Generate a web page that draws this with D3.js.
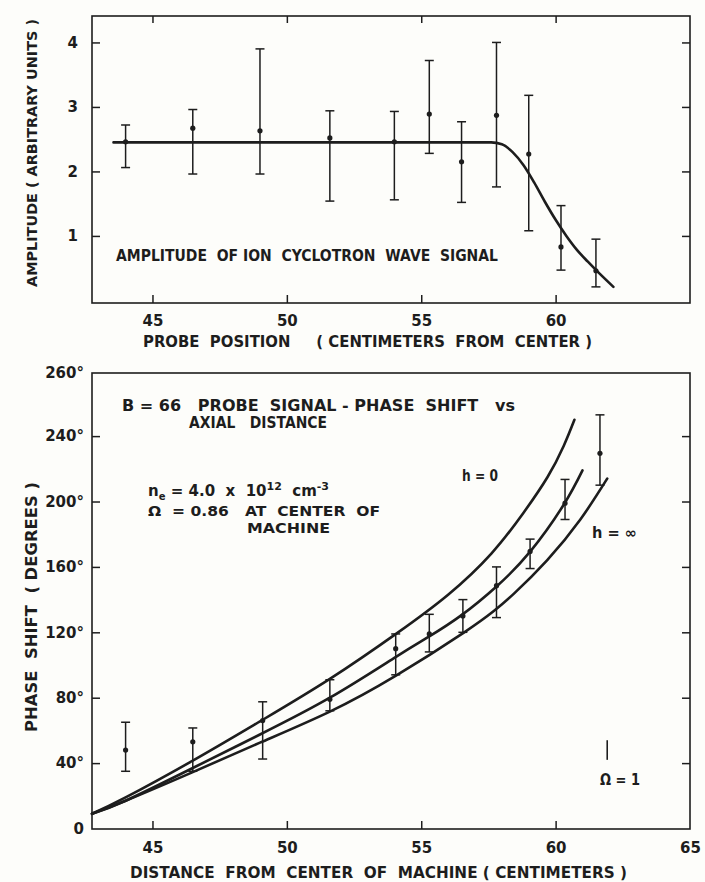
<!DOCTYPE html>
<html>
<head>
<meta charset="utf-8">
<script src="https://cdn.jsdelivr.net/npm/d3@7"></script>
<style>
  html, body { margin: 0; padding: 0; background: #fdfdfa; }
  svg { display: block; }
  text { font-family: "DejaVu Sans", sans-serif; font-weight: bold; fill: #1d1d1d; white-space: pre; }
</style>
</head>
<body>
<svg id="chart" width="705" height="882"></svg>
<script>
// ---- shared axis ----
const xTicks = [45, 50, 55, 60];
const xTickLabelsBottom = [45, 50, 55, 60, 65];

// ---- amplitude panel ----
const ampX  = [44, 46.5, 49, 51.6, 54, 55.3, 56.5, 57.8, 59, 60.2, 61.5];
const ampY  = [2.46, 2.67, 2.63, 2.52, 2.46, 2.89, 2.15, 2.87, 2.27, 0.83, 0.46];
const ampLo = [2.06, 1.96, 1.96, 1.54, 1.56, 2.28, 1.52, 1.76, 1.08, 0.47, 0.21];
const ampHi = [2.72, 2.96, 3.90, 2.94, 2.93, 3.72, 2.77, 4.00, 3.18, 1.47, 0.95];
const ampFitX = [43.55, 57.6, 58.0, 58.4, 58.8, 59.2, 59.6, 60.0, 60.4, 60.8, 61.2, 61.6, 62.15];
const ampFitY = [2.45, 2.45, 2.42, 2.30, 2.10, 1.83, 1.53, 1.25, 1.00, 0.78, 0.60, 0.43, 0.21];
const ampTicks = [1, 2, 3, 4];

// ---- phase panel ----
const phaseX  = [44, 46.5, 49.1, 51.6, 54.05, 55.3, 56.55, 57.8, 59.05, 60.35, 61.65];
const phaseY  = [48, 53, 66, 79, 110, 119, 130, 148.5, 169.5, 199, 229.5];
const phaseLo = [35, 35, 42.5, 72, 94, 108, 120, 129, 159, 189, 210];
const phaseHi = [65, 61.5, 77.5, 91, 119, 131, 140, 160, 177, 213.5, 253];
const h0X   = [42.75, 44, 46.5, 49, 51.6, 54.1, 56, 57.6, 58.8, 59.7, 60.3, 60.7];
const h0Y   = [9, 19, 41.5, 65.5, 91.5, 119.5, 143, 168, 193, 215, 234, 250];
const hMidX = [42.75, 44, 46.5, 49, 51.6, 54.06, 55.3, 56.5, 57.8, 59.06, 60.3, 61.0];
const hMidY = [9, 17, 37, 57.5, 80, 105, 117.5, 130.5, 148, 169.5, 198, 219];
const hInfX = [42.75, 44, 46.5, 49, 51.6, 54.06, 56.6, 57.7, 58.44, 59.68, 60.92, 61.92];
const hInfY = [9, 17, 34.5, 52.5, 71.5, 93.5, 120, 133, 143.5, 164, 189, 214];
const phaseTicks = [40, 80, 120, 160, 200, 240];
const phaseTickLabels = ["0", "40°", "80°", "120°", "160°", "200°", "240°"];
const phaseTopLabel = "260°";

const ink = "#1d1d1d";
const svg = d3.select("#chart");

const x = d3.scaleLinear().domain([42.75, 65]).range([92, 690]);
const yA = d3.scaleLinear().domain([-0.04, 4.41]).range([303, 16]);
const yP = d3.scaleLinear().domain([-0.3, 278.6]).range([829, 373]);

function frame(ys) {
  const [y0, y1] = ys.range();
  svg.append("rect")
    .attr("x", x.range()[0]).attr("y", y1)
    .attr("width", x.range()[1] - x.range()[0]).attr("height", y0 - y1)
    .attr("fill", "none").attr("stroke", ink).attr("stroke-width", 1.6);
}

function label(txt, px, py, len, opts = {}) {
  const t = svg.append("text")
    .attr("x", px).attr("y", py)
    .attr("font-size", opts.size || 15)
    .attr("text-anchor", opts.anchor || "start")
    .text(txt);
  if (len) t.attr("textLength", len).attr("lengthAdjust", "spacingAndGlyphs");
  if (opts.rotate) t.attr("transform", `rotate(-90, ${px}, ${py})`);
  return t;
}

function stripDomain(g) {
  g.select(".domain").remove();
  g.selectAll(".tick line").attr("stroke", ink).attr("stroke-width", 1.5);
  g.selectAll(".tick text").attr("font-size", 15).attr("fill", ink);
}

function errorBars(xs, ys, lo, hi, yScale) {
  const g = svg.append("g").attr("stroke", ink).attr("stroke-width", 1.5);
  const idx = d3.range(xs.length);
  g.selectAll(".bar").data(idx).join("line")
    .attr("x1", i => x(xs[i])).attr("x2", i => x(xs[i]))
    .attr("y1", i => yScale(lo[i])).attr("y2", i => yScale(hi[i]));
  g.selectAll(".capT").data(idx).join("line")
    .attr("x1", i => x(xs[i]) - 4.5).attr("x2", i => x(xs[i]) + 4.5)
    .attr("y1", i => yScale(hi[i])).attr("y2", i => yScale(hi[i]));
  g.selectAll(".capB").data(idx).join("line")
    .attr("x1", i => x(xs[i]) - 4.5).attr("x2", i => x(xs[i]) + 4.5)
    .attr("y1", i => yScale(lo[i])).attr("y2", i => yScale(lo[i]));
  svg.append("g").selectAll("circle").data(idx).join("circle")
    .attr("cx", i => x(xs[i])).attr("cy", i => yScale(ys[i]))
    .attr("r", 2.6).attr("fill", ink);
}

function curve(xs, ys, yScale, w, kind) {
  const line = d3.line().x(i => x(xs[i])).y(i => yScale(ys[i])).curve(kind);
  svg.append("path").attr("d", line(d3.range(xs.length)))
    .attr("fill", "none").attr("stroke", ink).attr("stroke-width", w)
    .attr("stroke-linecap", "round");
}

// ================= amplitude panel =================
frame(yA);
svg.append("g").attr("transform", `translate(0,${yA.range()[0]})`)
  .call(d3.axisBottom(x).tickValues(xTicks).tickSize(-8).tickPadding(12).tickFormat(d3.format("d")))
  .call(stripDomain);
svg.append("g").attr("transform", `translate(0,${yA.range()[1]})`)
  .call(d3.axisTop(x).tickValues(xTicks).tickSize(-7).tickFormat(""))
  .call(stripDomain);
svg.append("g").attr("transform", `translate(${x.range()[0]},0)`)
  .call(d3.axisLeft(yA).tickValues(ampTicks).tickSize(-8).tickPadding(14).tickFormat(d3.format("d")))
  .call(stripDomain);
svg.append("g").attr("transform", `translate(${x.range()[1]},0)`)
  .call(d3.axisRight(yA).tickValues(ampTicks).tickSize(-8).tickFormat(""))
  .call(stripDomain);

errorBars(ampX, ampY, ampLo, ampHi, yA);
curve(ampFitX, ampFitY, yA, 2.6, d3.curveMonotoneX);

label("AMPLITUDE  OF ION  CYCLOTRON  WAVE  SIGNAL", 116, 261, 382);
label("PROBE  POSITION     ( CENTIMETERS  FROM  CENTER )", 143, 347, 449);
label("AMPLITUDE ( ARBITRARY UNITS )", 37, 287, 268, { rotate: true, size: 13.5 });

// ================= phase panel =================
frame(yP);
svg.append("g").attr("transform", `translate(0,${yP.range()[0]})`)
  .call(d3.axisBottom(x).tickValues(xTicks).tickSize(-8).tickFormat(""))
  .call(stripDomain);
svg.append("g").attr("transform", `translate(0,${yP.range()[0]})`)
  .call(d3.axisBottom(x).tickValues(xTickLabelsBottom).tickSize(0).tickPadding(13).tickFormat(d3.format("d")))
  .call(stripDomain);
svg.append("g").attr("transform", `translate(${x.range()[0]},0)`)
  .call(d3.axisLeft(yP).tickValues(phaseTicks).tickSize(-8).tickFormat(""))
  .call(stripDomain);
svg.append("g").attr("transform", `translate(${x.range()[0]},0)`)
  .call(d3.axisLeft(yP).tickValues([0, ...phaseTicks]).tickSize(0).tickPadding(8)
    .tickFormat((d, i) => phaseTickLabels[i]))
  .call(stripDomain);
svg.append("g").attr("transform", `translate(${x.range()[1]},0)`)
  .call(d3.axisRight(yP).tickValues(phaseTicks).tickSize(-8).tickFormat(""))
  .call(stripDomain);
label(phaseTopLabel, x.range()[0] - 8, yP(yP.domain()[1]) + 5, null, { anchor: "end" });

curve(h0X, h0Y, yP, 2.6, d3.curveNatural);
curve(hMidX, hMidY, yP, 2.6, d3.curveNatural);
curve(hInfX, hInfY, yP, 2.6, d3.curveNatural);
errorBars(phaseX, phaseY, phaseLo, phaseHi, yP);

// annotations
label("B = 66   PROBE  SIGNAL - PHASE  SHIFT   vs", 122, 411, 393);
label("AXIAL   DISTANCE", 189, 428, 138);

const ne = svg.append("text").attr("x", 148).attr("y", 496).attr("font-size", 15);
ne.append("tspan").text("n");
ne.append("tspan").attr("font-size", 10).attr("dy", 4).text("e");
ne.append("tspan").attr("dy", -4).text(" = 4.0  x  10");
ne.append("tspan").attr("font-size", 11).attr("dy", -6).text("12");
ne.append("tspan").attr("dy", 6).text("  cm");
ne.append("tspan").attr("font-size", 11).attr("dy", -6).text("-3");

label("Ω  = 0.86   AT  CENTER  OF", 148, 516, 232, { size: 14 });
label("MACHINE", 247, 533, 83, { size: 14 });
label("h = 0", x(56.52), 481, 36);
label("h = ∞", x(61.35), 538, 45);

// resonance marker
svg.append("line")
  .attr("x1", x(61.92)).attr("x2", x(61.92))
  .attr("y1", yP(54)).attr("y2", yP(42))
  .attr("stroke", ink).attr("stroke-width", 1.6);
label("Ω = 1", 600, 785, 40);

label("PHASE  SHIFT  ( DEGREES )", 37, 732, 250, { rotate: true });
label("DISTANCE  FROM  CENTER  OF  MACHINE ( CENTIMETERS )", 130, 878, 497);
</script>
</body>
</html>
